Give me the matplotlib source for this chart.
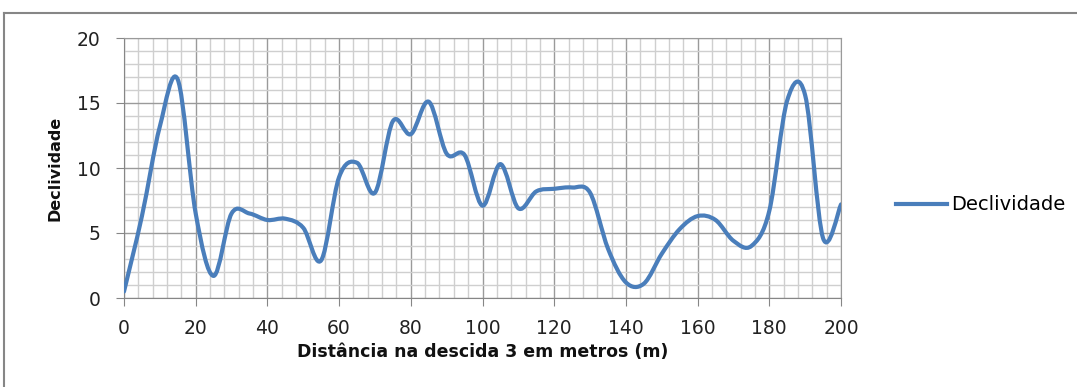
import numpy as np
import matplotlib
matplotlib.use('Agg')
import matplotlib.pyplot as plt
from matplotlib.path import Path
from matplotlib.patches import PathPatch
from matplotlib.lines import Line2D

plt.rcParams['font.family'] = ['DejaVu Sans']

# distância (m) e declividade
distancia = [0, 5, 10, 15, 20, 25, 30, 35, 40, 45, 50, 55, 60, 65, 70, 75, 80,
             85, 90, 95, 100, 105, 110, 115, 120, 125, 130, 135, 140, 145, 150,
             155, 160, 165, 170, 175, 180, 185, 190, 195, 200]
declividade = [0.5, 6.3, 13.2, 16.8, 6.5, 1.7, 6.5, 6.5, 6.0, 6.1, 5.4, 2.9,
               9.3, 10.4, 8.1, 13.6, 12.6, 15.1, 11.1, 11.0, 7.1, 10.3, 6.9,
               8.2, 8.4, 8.5, 8.1, 3.8, 1.2, 1.1, 3.4, 5.3, 6.3, 6.0, 4.4, 4.0,
               6.7, 15.2, 15.6, 4.6, 7.2]

x_ticks = list(range(0, 201, 20))
y_ticks = list(range(0, 21, 5))

blue = '#4a7ebb'
grey = '#868686'


def smooth_path(xs, ys, t=1/6):
    # curva suavizada estilo Excel (bezier cúbica)
    pts = np.column_stack([xs, ys]).astype(float)
    n = len(pts)
    verts = [pts[0]]
    codes = [Path.MOVETO]
    for i in range(n - 1):
        p0 = pts[i - 1] if i > 0 else pts[i]
        p1 = pts[i]
        p2 = pts[i + 1]
        p3 = pts[i + 2] if i + 2 < n else pts[i + 1]
        c1 = p1 + (p2 - p0) * t
        c2 = p2 - (p3 - p1) * t
        verts += [c1, c2, p2]
        codes += [Path.CURVE4] * 3
    return Path(verts, codes)


fig = plt.figure(figsize=(10.77, 3.87), dpi=100)
ax = fig.add_axes([124 / 1077, 1 - 298 / 387, (841 - 124) / 1077, (298 - 38) / 387])

patch = PathPatch(smooth_path(distancia, declividade), facecolor='none',
                  edgecolor=blue, lw=3.0, capstyle='round', joinstyle='round', zorder=3)
ax.add_patch(patch)

ax.set_xlim(0, 200)
ax.set_ylim(0, 20)
ax.set_xticks(x_ticks)
ax.set_yticks(y_ticks)
ax.set_xticks(np.arange(0, 201, 4), minor=True)
ax.set_yticks(np.arange(0, 21, 1), minor=True)
ax.grid(True, which='minor', color='#cfcfcf', lw=1.0, zorder=0)
ax.grid(True, which='major', color='#9a9a9a', lw=1.0, zorder=1)
ax.set_axisbelow(True)
ax.tick_params(which='minor', length=0)
ax.tick_params(which='major', length=6, color=grey, labelsize=13.5,
               labelcolor='#222222')
ax.tick_params(axis='x', pad=9)
ax.tick_params(axis='y', pad=11)
for side in ['top', 'right']:
    ax.spines[side].set_color('#9a9a9a')
for side in ['left', 'bottom']:
    ax.spines[side].set_color(grey)

# títulos dos eixos
fig.text(482.5 / 1077, 1 - 352 / 387, 'Distância na descida 3 em metros (m)',
         fontsize=12.5, fontweight='bold', ha='center', va='center', color='#111111')
fig.text(55 / 1077, 1 - 168 / 387, 'Declividade', fontsize=11.5, fontweight='bold',
         rotation=90, ha='center', va='center', color='#111111')

handle = Line2D([], [], color=blue, lw=3.0)
fig.legend([handle], ['Declividade'], loc='center left',
           bbox_to_anchor=(896 / 1077, 1 - 205 / 387), frameon=False,
           fontsize=14, handlelength=2.6, handletextpad=0.25,
           borderpad=0, borderaxespad=0)

# moldura do gráfico
fig.add_artist(Line2D([4 / 1077, 4 / 1077], [0, 1 - 13 / 387], color=grey, lw=1.5,
                      transform=fig.transFigure))
fig.add_artist(Line2D([4 / 1077, 1], [1 - 13 / 387, 1 - 13 / 387], color=grey, lw=1.5,
                      transform=fig.transFigure))

fig.savefig('out.png', dpi=100)
